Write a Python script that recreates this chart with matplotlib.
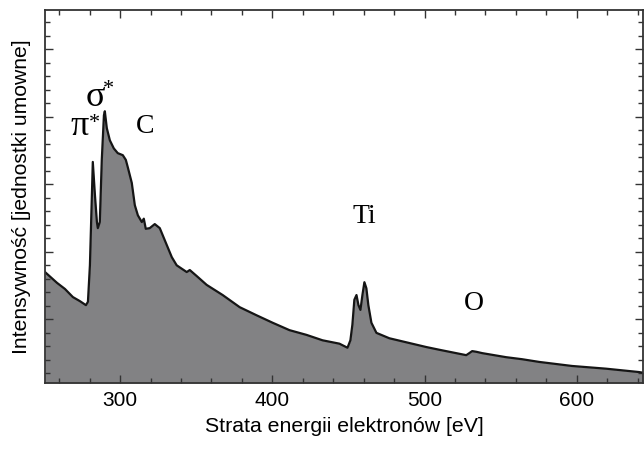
import matplotlib
matplotlib.use('Agg')
import matplotlib.pyplot as plt
from matplotlib.ticker import MultipleLocator

# energy loss [eV] and intensity (arbitrary units)
energy = [250.7, 258.6, 263.8, 269.0, 273.6, 277.6, 278.9, 280.2, 281.5, 282.1,
          283.5, 284.8, 285.4, 286.7, 288.0, 289.4, 290.0, 291.3, 293.3, 295.9,
          298.5, 301.8, 303.8, 305.1, 307.7, 309.7, 311.7, 314.3, 315.6, 316.9,
          319.5, 322.8, 326.1, 329.4, 334.0, 337.2, 343.8, 345.8, 350.4, 356.9,
          367.4, 378.6, 389.7, 400.2, 411.3, 422.5, 433.0, 444.1, 449.4, 451.3,
          452.6, 453.9, 455.3, 456.6, 457.9, 459.2, 460.5, 461.8, 463.1, 465.1,
          468.4, 476.9, 488.1, 501.2, 509.7, 527.4, 529.4, 531.3, 534.0, 537.9,
          553.6, 564.1, 575.3, 596.9, 619.2, 640.9, 643.5]
intensity = [1.70, 1.54, 1.45, 1.33, 1.27, 1.21, 1.26, 1.80, 2.84, 3.33,
             2.84, 2.44, 2.35, 2.44, 3.36, 4.02, 4.08, 3.83, 3.65, 3.53,
             3.46, 3.43, 3.36, 3.25, 3.02, 2.69, 2.54, 2.44, 2.49, 2.34,
             2.35, 2.41, 2.35, 2.17, 1.92, 1.80, 1.70, 1.73, 1.64, 1.51,
             1.36, 1.18, 1.06, 0.95, 0.84, 0.77, 0.69, 0.64, 0.58, 0.69,
             0.92, 1.29, 1.36, 1.21, 1.14, 1.36, 1.55, 1.46, 1.21, 0.95,
             0.80, 0.72, 0.66, 0.59, 0.55, 0.47, 0.50, 0.53, 0.52, 0.50,
             0.44, 0.41, 0.37, 0.31, 0.27, 0.22, 0.21]

ybottom = 0.058
ytop = 5.586

fig = plt.figure(figsize=(6.44, 4.5), dpi=100)
ax = fig.add_axes([45 / 644, 1 - 383 / 450, 598 / 644, 373.5 / 450])

ax.fill_between(energy, ybottom, intensity, color='#828284', lw=0)
ax.plot(energy, intensity, color='#151515', lw=1.6)

ax.set_xlim(250.7, 643.5)
ax.set_ylim(ybottom, ytop)

ax.xaxis.set_major_locator(MultipleLocator(100))
ax.xaxis.set_minor_locator(MultipleLocator(20))
ax.yaxis.set_major_locator(MultipleLocator(1))
ax.yaxis.set_minor_locator(MultipleLocator(0.2))
ax.tick_params(which='both', direction='in', top=True, right=True,
               color='#333333', width=1)
ax.tick_params(which='major', length=6, labelsize=15, pad=6)
ax.tick_params(which='minor', length=3.5)
ax.set_yticklabels([])
for s in ax.spines.values():
    s.set_color('#333333')
    s.set_linewidth(1.3)

ax.set_xlabel('Strata energii elektronów [eV]', fontsize=15.3,
              family='Liberation Sans', labelpad=5)
ax.set_ylabel('Intensywność [jednostki umowne]', fontsize=15.2,
              family='Liberation Sans')
ax.yaxis.set_label_coords(-0.024, 0.5)
for lbl in ax.get_xticklabels():
    lbl.set_family('Liberation Sans')

serif = 'Liberation Serif'
ax.text(316.3, 3.756, 'C', fontsize=20, family=serif, ha='center', va='baseline')
ax.text(460.5, 2.425, 'Ti', fontsize=20, family=serif, ha='center', va='baseline')
ax.text(532.7, 1.138, 'O', fontsize=20, family=serif, ha='center', va='baseline')
ax.text(273.6, 3.727, 'π', fontsize=26, family=serif, ha='center', va='baseline')
ax.text(283.3, 3.90, '*', fontsize=16, family=serif, ha='center', va='center')
ax.text(283.5, 4.156, 'σ', fontsize=26, family=serif, ha='center', va='baseline')
ax.text(292.6, 4.40, '*', fontsize=16, family=serif, ha='center', va='center')

fig.savefig('out.png', dpi=100)
